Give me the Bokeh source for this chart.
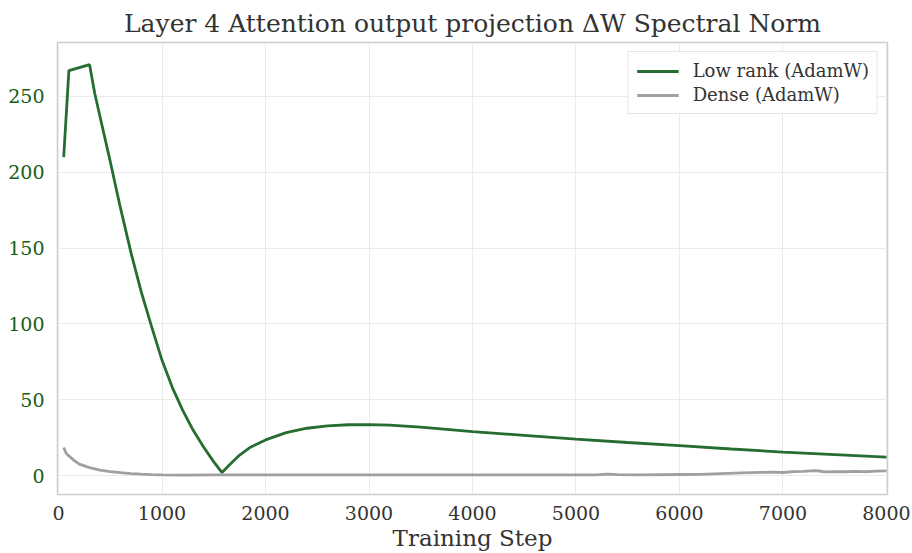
from bokeh.plotting import figure
from bokeh.models import Range1d, FixedTicker, Legend, LegendItem
from bokeh.embed import file_html
from bokeh.resources import INLINE

lowrank_steps = [50, 100, 300, 350, 400, 500, 600, 700, 800, 900, 1000, 1100, 1200, 1300, 1400, 1500, 1580,
                 1650, 1750, 1855, 2000, 2200, 2400, 2600, 2800, 3000, 3200, 3500, 4000, 4500, 5000,
                 5500, 6000, 6500, 7000, 7500, 8000]
lowrank_vals = [210, 267, 271, 252, 237, 207, 176, 147, 121, 98, 76, 58, 43, 30, 19, 9, 2,
                7, 13.5, 18.7, 23.5, 28.3, 31.2, 32.8, 33.5, 33.6, 33.2, 32, 29, 26.5, 24,
                21.8, 19.8, 17.5, 15.5, 13.8, 12.1]

dense_steps = [50, 75, 100, 150, 200, 300, 400, 500, 600, 700, 800, 900, 1000, 1200, 1500, 2000, 3000,
               4000, 5000, 5200, 5300, 5400, 5600, 6000, 6200, 6400, 6600, 6800, 6900, 7000, 7100,
               7200, 7300, 7350, 7400, 7500, 7600, 7700, 7800, 7900, 8000]
dense_vals = [18.5, 14.5, 13, 10, 7.5, 5.2, 3.6, 2.6, 1.9, 1.3, 0.9, 0.6, 0.4, 0.3, 0.4, 0.5, 0.5,
              0.4, 0.4, 0.5, 1.0, 0.6, 0.5, 0.7, 0.8, 1.3, 1.7, 2.1, 2.3, 2.0, 2.6,
              2.7, 3.3, 3.0, 2.4, 2.6, 2.5, 2.8, 2.5, 2.9, 3.1]

x_ticks = [0, 1000, 2000, 3000, 4000, 5000, 6000, 7000, 8000]
y_ticks = [0, 50, 100, 150, 200, 250]

title = "Layer 4 Attention output projection \u0394W Spectral Norm"
x_label = "Training Step"
series_names = ["Low rank (AdamW)", "Dense (AdamW)"]

FONT = "DejaVu Serif"
GREEN = "#266d30"
GRAY = "#a0a0a0"

p = figure(width=912, height=553, output_backend="svg", toolbar_location=None,
           x_range=Range1d(-10, 8010), y_range=Range1d(-12.5, 285.6),
           frame_width=830, frame_height=452)
p.min_border_left = 57
p.min_border_right = 25
p.min_border_top = 42
p.min_border_bottom = 59

p.title.text = title
p.title.text_font = FONT
p.title.text_font_size = "25px"
p.title.text_font_style = "normal"
p.title.text_color = "#333333"
p.title.align = "center"
p.title.offset = 0

p.outline_line_color = "#cccccc"
p.outline_line_width = 1.5

for ax in (p.xaxis[0], p.yaxis[0]):
    ax.axis_line_color = None
    ax.major_tick_line_color = None
    ax.minor_tick_line_color = None
    ax.major_label_text_font = FONT
    ax.major_label_text_font_size = "19px"

p.xaxis[0].ticker = FixedTicker(ticks=x_ticks)
p.yaxis[0].ticker = FixedTicker(ticks=y_ticks)
p.xaxis[0].major_label_text_color = "#333333"
p.yaxis[0].major_label_text_color = "#175e17"
p.xaxis[0].major_label_standoff = 5
p.yaxis[0].major_label_standoff = 7
p.xaxis[0].axis_label = x_label
p.xaxis[0].axis_label_text_font = FONT
p.xaxis[0].axis_label_text_font_size = "23px"
p.xaxis[0].axis_label_text_font_style = "normal"
p.xaxis[0].axis_label_text_color = "#333333"
p.xaxis[0].axis_label_standoff = 2

p.xgrid.grid_line_color = "#ebebeb"
p.ygrid.grid_line_color = "#ebebeb"
p.xgrid.ticker = FixedTicker(ticks=x_ticks)
p.ygrid.ticker = FixedTicker(ticks=y_ticks)

r1 = p.line(lowrank_steps, lowrank_vals, line_color=GREEN, line_width=2.8)
r2 = p.line(dense_steps, dense_vals, line_color=GRAY, line_width=2.8)

legend = Legend(items=[LegendItem(label=series_names[0], renderers=[r1]),
                       LegendItem(label=series_names[1], renderers=[r2])],
                location="top_right")
legend.label_text_font = FONT
legend.label_text_font_size = "18px"
legend.label_text_color = "#333333"
legend.border_line_color = "#cccccc"
legend.border_line_width = 1.5
legend.background_fill_alpha = 1.0
legend.glyph_width = 42
legend.label_standoff = 14
legend.spacing = 3
legend.padding = 8
legend.margin = 9
p.add_layout(legend)

open("out.html", "w").write(file_html(p, INLINE))
